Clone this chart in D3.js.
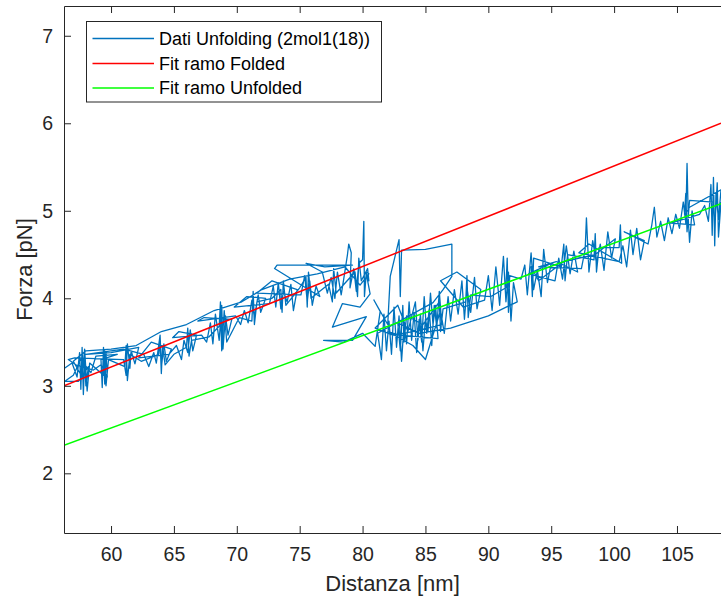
<!DOCTYPE html>
<html><head><meta charset="utf-8">
<script src="https://cdn.jsdelivr.net/npm/d3@7"></script>
<style>html,body{margin:0;padding:0;background:#fff;}svg{display:block;}</style>
</head><body>
<svg id="c" width="721" height="601"></svg>
<script>
// ---- data ----
const xTicks = [60, 65, 70, 75, 80, 85, 90, 95, 100, 105];
const yTicks = [2, 3, 4, 5, 6, 7];
const xDomain = [56.26, 108.5];
const yDomain = [1.318, 7.34];
const fitX = [56.26, 108.5];
const fitFoldedY = [3.00, 6.00];
const fitUnfoldedY = [2.32, 5.08];
const legendLabels = ["Dati Unfolding (2mol1(18))", "Fit ramo Folded", "Fit ramo Unfolded"];
const datiUnfolding = [
[56.30,3.20],[56.9,3.26],[57.3,3.10],[57.5,3.38],[57.6,2.96],[57.7,3.44],[57.8,2.90],[57.9,3.30],[58.0,3.00],[58.2,3.22],[57.4,3.05],[56.3,3.05],[57.0,3.12],[57.6,3.30],[58.4,3.15],[58.8,3.34],[60.5,3.36],[59.2,3.30],[59.3,2.98],[59.4,3.44],[59.5,3.02],[59.6,3.38],[59.7,3.10],[59.2,3.24],[58.6,3.18],[57.2,3.24],[56.6,3.30],[57.1,3.32],[61.0,3.30],[61.2,3.12],[61.3,3.48],[61.5,3.20],[61.6,3.40],[61.9,3.25],[62.2,3.44],[60.0,3.38],[58.0,3.36],[61.0,3.42],[62.6,3.36],[63.0,3.22],[63.4,3.38],[63.6,3.26],[63.9,3.58],[64.0,3.20],[64.2,3.48],[64.4,3.28],[64.8,3.42],[63.2,3.50],[62.2,3.32],[64.6,3.36],[65.2,3.46],[65.6,3.30],[65.8,3.52],[66.1,3.38],[66.3,3.64],[66.5,3.40],[66.8,3.58],[65.4,3.62],[64.9,3.55],[67.2,3.58],[67.6,3.50],[67.9,3.72],[68.1,3.48],[68.3,3.82],[68.6,3.52],[68.8,3.92],[68.9,3.42],[69.1,3.80],[69.3,3.58],[69.6,3.76],[67.4,3.78],[66.9,3.74],[69.9,3.80],[70.3,3.70],[70.6,3.86],[70.9,3.72],[71.2,3.98],[71.4,3.78],[71.7,4.04],[71.9,3.84],[72.3,4.00],[70.8,4.02],[69.8,3.90],[72.6,3.94],[72.9,4.14],[73.1,3.90],[73.3,4.18],[73.5,3.88],[73.7,4.08],[74.0,3.96],[74.3,4.16],[74.5,3.86],[74.8,4.10],[72.8,4.20],[71.6,4.06],[75.1,4.04],[75.4,4.26],[75.6,3.96],[75.8,4.20],[76.0,3.92],[76.3,4.14],[76.6,4.02],[73.0,4.34],[73.2,4.38],[79.2,4.38],[77.0,4.36],[75.5,4.40],[76.8,4.30],[77.2,4.06],[77.5,4.24],[77.8,4.00],[78.0,4.30],[78.3,4.04],[78.5,4.22],[78.8,4.50],[78.9,4.62],[79.1,4.52],[79.0,4.12],[79.3,4.34],[79.5,4.08],[79.7,4.40],[80.0,4.44],[80.1,4.88],[80.15,4.02],[80.3,4.30],[80.5,4.28],
[79.8,4.15],[78.6,4.36],[76.4,4.28],[74.2,4.22],[72.0,4.10],[70.4,3.96],[68.2,3.86],[66.0,3.70],[64.0,3.62],[62.0,3.46],[60.0,3.42],[58.0,3.40],[57.0,3.28],[57.7,3.10],[57.9,3.42],[58.1,2.94],[58.3,3.26],[59.4,3.12],[59.5,3.40],[59.6,3.00],[59.8,3.30],[61.1,3.22],[61.2,3.46],[61.3,3.06],[61.5,3.36],[62.4,3.28],[63.8,3.36],[63.9,3.52],[64.0,3.14],[64.1,3.46],[64.3,3.24],[65.0,3.36],[66.0,3.44],[66.1,3.66],[66.2,3.34],[66.4,3.52],[67.8,3.56],[68.6,3.68],[68.7,3.96],[68.8,3.40],[69.0,3.86],[69.2,3.50],[70.2,3.78],[71.2,3.74],[71.3,4.08],[71.4,3.70],[71.6,3.96],[72.8,4.00],[73.5,4.10],[73.6,3.84],[73.7,4.20],[73.9,3.92],[75.0,4.12],[75.5,4.24],[75.6,3.90],[75.7,4.30],[75.9,4.00],[77.3,4.16],[77.6,3.96],[77.7,4.34],[77.9,4.06],[79.4,4.30],[79.6,4.02],[79.7,4.46],[79.9,4.20],[80.4,4.34],
[80.5,4.20],[80.3,4.28],[80.6,4.05],[79.8,3.90],[78.4,3.94],[77.6,3.67],[80.3,3.79],[79.2,3.52],[76.9,3.52],[78.5,3.50],[80.0,3.60],[81.0,3.45],[81.4,3.85],[80.9,3.98],[82.0,3.70],[82.2,4.25],[82.9,4.67],[83.0,4.02],[83.1,4.55],[85.0,4.56],[87.1,4.62],[87.1,4.25],[86.4,4.10],[85.6,3.95],
[81.2,3.60],[81.5,3.30],[81.7,3.82],[81.9,3.40],[82.1,3.74],[82.3,3.36],[82.5,3.90],[82.7,3.44],[82.9,3.80],[83.1,3.28],[83.3,3.70],[83.5,3.48],[83.7,3.96],[83.9,3.52],[84.1,3.84],[84.3,3.38],[84.5,3.76],[84.7,3.50],[84.9,4.02],[85.1,3.60],[85.3,3.88],[85.5,3.46],[85.7,3.92],[85.9,3.66],[86.1,4.08],[86.3,3.70],[84.0,3.62],[82.4,3.58],[81.0,3.66],[82.8,3.92],[83.6,3.62],
[84.2,3.96],[84.4,3.52],[84.6,3.82],[84.8,3.40],[85.0,3.76],[85.2,3.62],[85.4,4.06],[85.6,3.70],[85.8,3.92],[86.0,3.54],[83.0,3.58],[82.0,3.62],[84.0,3.46],[85.0,3.30],[86.2,3.86],[86.5,3.60],[86.8,4.02],[87.0,3.74],[87.3,4.10],[87.6,3.82],[87.9,4.20],[88.1,3.76],[88.3,4.12],[88.6,3.84],[88.9,4.24],[89.1,3.88],[89.4,4.10],[87.5,4.30],[86.2,4.20],[88.0,3.90],[89.7,3.98],[90.0,4.26],[90.3,3.86],[90.6,4.36],[90.9,3.92],[91.2,4.48],[91.4,3.96],[91.6,4.30],[91.8,3.74],[92.0,4.18],[92.3,3.96],
[90.0,3.80],[87.0,3.66],[84.5,3.60],[82.8,3.72],[83.0,3.40],[83.2,3.92],[83.3,3.50],[83.5,3.80],[84.8,3.70],[86.1,3.96],[86.2,3.62],[86.4,3.88],[88.2,3.96],[88.3,4.26],[88.4,3.78],[88.6,4.04],[90.2,4.02],[91.4,4.12],[91.5,4.46],[91.6,3.84],[91.7,4.26],
[92.6,4.22],[92.9,4.38],[93.1,4.04],[93.4,4.52],[93.6,4.10],[93.9,4.32],[94.2,4.02],[94.4,4.56],[94.7,4.18],[95.0,4.40],[93.2,4.28],[95.3,4.20],[95.6,4.46],[95.9,4.22],[96.2,4.60],[96.5,4.28],[96.8,4.54],[97.1,4.30],[95.4,4.42],[94.0,4.36],[97.4,4.34],[97.7,4.56],[97.8,4.92],[98.0,4.30],[98.3,4.66],[98.6,4.40],[98.9,4.62],[99.2,4.32],[99.5,4.76],[99.8,4.46],[100.1,4.68],
[98.5,4.50],[96.0,4.42],[94.0,4.20],[93.4,4.36],[93.5,4.02],[93.6,4.46],[95.8,4.36],[96.0,4.62],[96.1,4.20],[96.3,4.50],[98.4,4.44],[98.5,4.74],[98.6,4.30],[98.8,4.58],[100.4,4.58],[100.5,4.84],[100.6,4.40],
[98.0,4.62],[97.2,4.52],[100.4,4.42],[100.7,4.60],[101.0,4.36],[101.3,4.78],[101.5,4.50],[101.8,4.80],[102.1,4.44],[102.4,4.66],[100.8,4.76],[102.7,4.62],[103.0,4.84],[103.2,5.04],[103.4,4.70],[103.7,4.88],[104.0,4.66],[104.3,4.92],[104.6,4.74],[104.9,4.96],[105.2,4.80],[105.5,5.10],[105.7,4.86],[105.8,5.54],[105.9,4.90],[106.0,4.64],[106.2,5.00],[106.4,4.84],[104.5,4.86],[106.8,4.96],[107.2,5.06],[107.5,4.88],[107.7,5.30],[107.8,4.72],[107.9,5.38],[108.0,4.60],[108.1,5.20],[108.3,4.90],[108.5,5.24],
[106.0,5.04],[105.6,4.96],[105.7,5.20],[105.8,4.76],[106.0,5.12],[107.9,5.10],[108.0,4.80],[108.2,5.32],[108.3,4.70],[108.5,5.10]
];
// ---- layout ----
const m = {left: 64, top: 6, right: 721, bottom: 533};
const font = "'Liberation Sans', Arial, Helvetica, sans-serif";
const axisCol = "#262626";
const svg = d3.select("#c").style("font-family", font);

const x = d3.scaleLinear().domain(xDomain).range([m.left, m.right]);
const y = d3.scaleLinear().domain(yDomain).range([m.bottom, m.top]);

svg.append("defs").append("clipPath").attr("id","clip")
  .append("rect").attr("x", m.left).attr("y", m.top).attr("width", m.right - m.left).attr("height", m.bottom - m.top);

const plot = svg.append("g").attr("clip-path","url(#clip)");
const line = d3.line().x(d => x(d[0])).y(d => y(d[1]));

plot.append("path").datum(datiUnfolding).attr("d", line)
  .style("fill","none").style("stroke","#0072BD").style("stroke-width",1.3).style("stroke-linejoin","round");
plot.append("path").datum(fitX.map((v,i)=>[v, fitFoldedY[i]])).attr("d", line)
  .style("fill","none").style("stroke","#FF0000").style("stroke-width",1.5);
plot.append("path").datum(fitX.map((v,i)=>[v, fitUnfoldedY[i]])).attr("d", line)
  .style("fill","none").style("stroke","#00FF00").style("stroke-width",1.5);

// axes
const tickLen = 7;
const fmt = d3.format("d");
const xAxisB = d3.axisBottom(x).tickValues(xTicks).tickFormat(fmt).tickSizeInner(-tickLen).tickSizeOuter(0).tickPadding(14);
const gx = svg.append("g").attr("transform",`translate(0,${m.bottom})`).call(xAxisB);
const xAxisT = d3.axisTop(x).tickValues(xTicks).tickSizeInner(-tickLen).tickSizeOuter(0).tickFormat("");
const gxt = svg.append("g").attr("transform",`translate(0,${m.top})`).call(xAxisT);
const yAxisL = d3.axisLeft(y).tickValues(yTicks).tickFormat(fmt).tickSizeInner(-tickLen).tickSizeOuter(0).tickPadding(11);
const gy = svg.append("g").attr("transform",`translate(${m.left},0)`).call(yAxisL);
[gx, gxt, gy].forEach(g => {
  g.selectAll("path.domain").attr("stroke", axisCol).attr("stroke-width",1);
  g.selectAll(".tick line").attr("stroke", axisCol).attr("stroke-width",1);
  g.selectAll(".tick text").attr("fill", axisCol).style("font-size","19.5px").style("font-family", font);
});

svg.append("text").attr("x", (m.left + m.right)/2).attr("y", 591)
  .attr("text-anchor","middle").attr("fill", axisCol).style("font-size","22px").text("Distanza [nm]");
svg.append("text").attr("transform",`translate(32,${(m.top+m.bottom)/2}) rotate(-90)`)
  .attr("text-anchor","middle").attr("fill", axisCol).style("font-size","22px").text("Forza [pN]");

// legend
const lg = svg.append("g");
lg.append("rect").attr("x",86.5).attr("y",21.5).attr("width",295).attr("height",80.5)
  .style("fill","#fff").style("stroke", axisCol).style("stroke-width",1);
const legCols = ["#0072BD","#FF0000","#00FF00"];
const legY = [38.5, 63.5, 88];
legendLabels.forEach((t,i) => {
  lg.append("line").attr("x1",92.5).attr("x2",154).attr("y1",legY[i]).attr("y2",legY[i])
    .style("stroke", legCols[i]).style("stroke-width",1.6);
  lg.append("text").attr("x",159).attr("y",legY[i]).attr("dy","0.35em")
    .style("fill","#000").style("font-size","18px").text(t);
});
</script>
</body></html>
